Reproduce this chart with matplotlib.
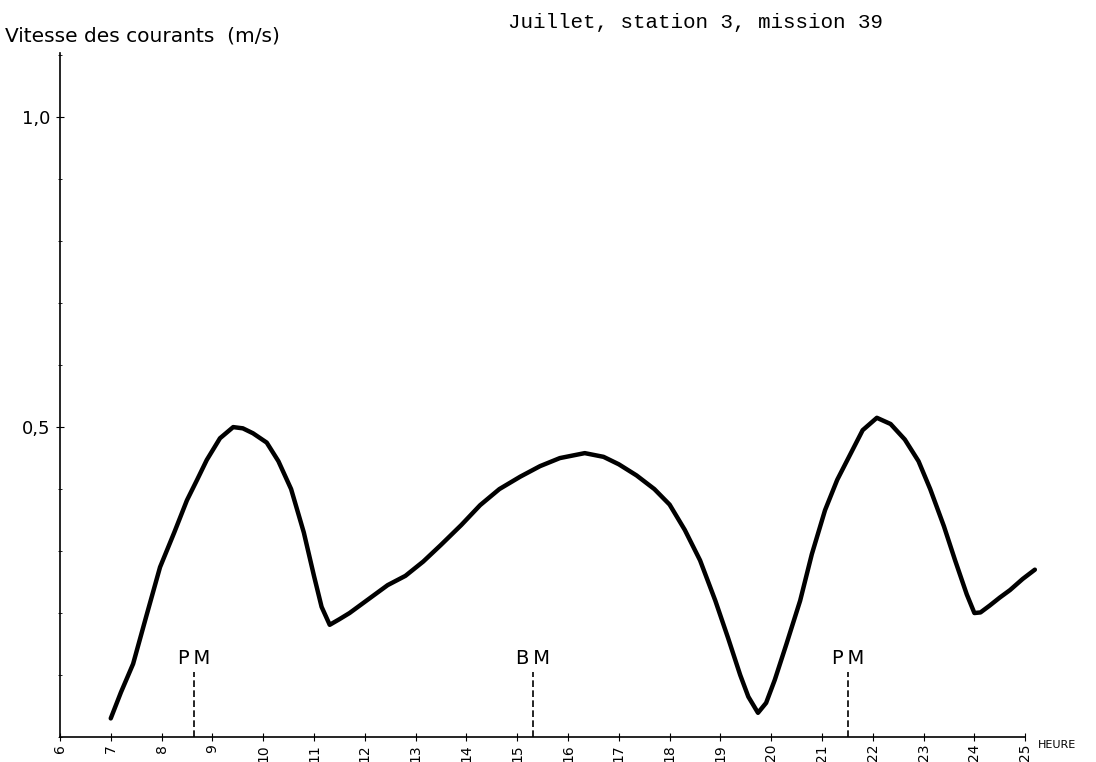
import matplotlib
matplotlib.use("Agg")
import matplotlib.pyplot as plt
from matplotlib.ticker import MultipleLocator

# Current speed readings (hour, m/s) taken along the trace
hours = [7.0, 7.2, 7.44, 7.7, 7.97, 8.25, 8.5, 8.7, 8.89, 9.15, 9.41, 9.6,
         9.8, 10.07, 10.3, 10.55, 10.8, 11.0, 11.15, 11.31, 11.5, 11.7,
         12.1, 12.45, 12.8, 13.15, 13.5, 13.9, 14.27, 14.65, 15.06, 15.45,
         15.84, 16.33, 16.7, 17.0, 17.35, 17.7, 18.0, 18.3, 18.6, 18.9,
         19.15, 19.39, 19.55, 19.74, 19.9, 20.07, 20.3, 20.57, 20.8, 21.06,
         21.3, 21.55, 21.8, 22.08, 22.35, 22.63, 22.9, 23.13, 23.4, 23.62,
         23.85, 24.0, 24.12, 24.3, 24.5, 24.7, 24.95, 25.19]
speed = [0.03, 0.072, 0.118, 0.195, 0.274, 0.33, 0.382, 0.415, 0.447, 0.482, 0.5, 0.498,
         0.49, 0.475, 0.445, 0.40, 0.33, 0.26, 0.21, 0.181, 0.19, 0.2,
         0.224, 0.245, 0.26, 0.283, 0.31, 0.342, 0.374, 0.40, 0.42, 0.437,
         0.45, 0.458, 0.452, 0.44, 0.422, 0.40, 0.375, 0.334, 0.285, 0.22,
         0.16, 0.10, 0.065, 0.039, 0.055, 0.092, 0.15, 0.22, 0.295, 0.366,
         0.415, 0.455, 0.495, 0.515, 0.505, 0.48, 0.445, 0.40, 0.34, 0.285,
         0.23, 0.20, 0.201, 0.212, 0.225, 0.237, 0.255, 0.27]

# Tide events: high water (PM) and low water (BM)
tide_hours = [8.64, 15.31, 21.51]
tide_labels = ["PM", "BM", "PM"]

hour_ticks = list(range(6, 26))

fig = plt.figure(figsize=(10.96, 7.62), dpi=100)
ax = fig.add_axes([0.0547, 0.0328, 0.8923, 0.8972])

ax.plot(hours, speed, color="black", linewidth=3.2, solid_capstyle="round",
        solid_joinstyle="round")

for h, lab in zip(tide_hours, tide_labels):
    ax.plot([h, h], [0, 0.105], color="black", linewidth=1.2, linestyle=(0, (4, 2)))
    ax.text(h, 0.112, lab[0] + "\u2009" + lab[1], ha="center", va="bottom",
            fontsize=14, family="DejaVu Sans")

ax.set_xlim(6, 25.25)
ax.set_ylim(0, 1.103)
for s in ("top", "right"):
    ax.spines[s].set_visible(False)
ax.spines["bottom"].set_bounds(6, 25)
ax.spines["left"].set_linewidth(1.2)
ax.spines["bottom"].set_linewidth(1.2)

ax.set_xticks(hour_ticks)
ax.set_xticklabels([str(h) for h in hour_ticks], rotation=90, fontsize=10)
ax.tick_params(axis="x", direction="inout", length=6, pad=2)

ax.set_yticks([0.5, 1.0])
ax.set_yticklabels(["0,5", "1,0"], fontsize=13)
ax.yaxis.set_minor_locator(MultipleLocator(0.1))
ax.tick_params(axis="y", which="major", direction="inout", length=6, pad=4)
ax.tick_params(axis="y", which="minor", direction="inout", length=3)

fig.text(0.005, 0.94, "Vitesse des courants  (m/s)", fontsize=14.5,
         ha="left", va="bottom")
fig.text(0.635, 0.983, "Juillet, station 3, mission 39", fontsize=15,
         family="Liberation Mono", ha="center", va="top")
fig.text(0.947, 0.022, "HEURE", fontsize=8, ha="left", va="center")

fig.savefig("out.png", dpi=100)
